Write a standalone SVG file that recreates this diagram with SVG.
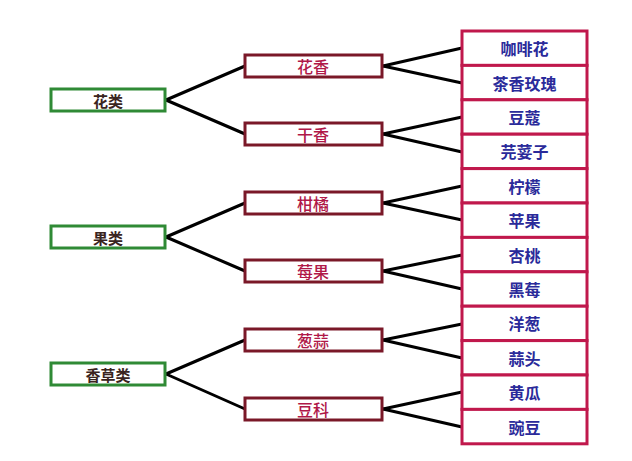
<svg xmlns="http://www.w3.org/2000/svg" width="632" height="461" viewBox="0 0 632 461">
<style>
text{font-family:"Noto Sans CJK SC","Noto Sans",sans-serif;font-size:15px;font-weight:bold;text-anchor:middle;dominant-baseline:central}
.l1 rect{fill:#fff;stroke:#2f8a35;stroke-width:3}
.l1 text{fill:#3a2420}
.l2 rect{fill:#fff;stroke:#7a1828;stroke-width:3}
.l2 text{fill:#b01848;font-weight:500;font-size:16px}
.l3 rect{fill:#fff;stroke:#c0184c;stroke-width:3}
.l3 text{fill:#2a2a9a;font-size:16px}
#connectors line{stroke:#000;stroke-width:3;stroke-linecap:round}
</style>
<rect width="632" height="461" fill="#fff"/>
<g id="connectors">
<line x1="166" y1="100" x2="245" y2="66"/><line x1="166" y1="100" x2="245" y2="134"/>
<line x1="166" y1="237" x2="245" y2="203"/><line x1="166" y1="237" x2="245" y2="271"/>
<line x1="166" y1="374" x2="245" y2="340"/><line x1="166" y1="374" x2="245" y2="409"/>
<line x1="383" y1="66" x2="462" y2="48"/><line x1="383" y1="66" x2="462" y2="83"/>
<line x1="383" y1="134" x2="462" y2="117"/><line x1="383" y1="134" x2="462" y2="152"/>
<line x1="383" y1="203" x2="462" y2="186"/><line x1="383" y1="203" x2="462" y2="220"/>
<line x1="383" y1="271" x2="462" y2="255"/><line x1="383" y1="271" x2="462" y2="289"/>
<line x1="383" y1="340" x2="462" y2="324"/><line x1="383" y1="340" x2="462" y2="358"/>
<line x1="383" y1="409" x2="462" y2="392"/><line x1="383" y1="409" x2="462" y2="427"/>
</g>
<g id="n-hualei" class="l1"><rect x="51" y="89" width="114" height="22"/><text x="108" y="100">花类</text></g>
<g id="n-guolei" class="l1"><rect x="51" y="226" width="114" height="22"/><text x="108" y="237">果类</text></g>
<g id="n-xiangcaolei" class="l1"><rect x="51" y="363" width="114" height="22"/><text x="108" y="374">香草类</text></g>
<g id="n-huaxiang" class="l2"><rect x="245" y="55" width="137" height="22"/><text x="313" y="66">花香</text></g>
<g id="n-ganxiang" class="l2"><rect x="245" y="123" width="137" height="22"/><text x="313" y="134">干香</text></g>
<g id="n-ganju" class="l2"><rect x="245" y="192" width="137" height="22"/><text x="313" y="203">柑橘</text></g>
<g id="n-meiguo" class="l2"><rect x="245" y="260" width="137" height="22"/><text x="313" y="271">莓果</text></g>
<g id="n-congsuan" class="l2"><rect x="245" y="329" width="137" height="22"/><text x="313" y="340">葱蒜</text></g>
<g id="n-douke" class="l2"><rect x="245" y="398" width="137" height="22"/><text x="313" y="409">豆科</text></g>
<g id="n-kafeihua" class="l3"><rect x="462" y="31" width="125" height="34.4"/><text x="524.5" y="48.2">咖啡花</text></g>
<g id="n-chaxiangmeigui" class="l3"><rect x="462" y="65.4" width="125" height="34.4"/><text x="524.5" y="82.6">茶香玫瑰</text></g>
<g id="n-doukou" class="l3"><rect x="462" y="99.8" width="125" height="34.4"/><text x="524.5" y="117">豆蔻</text></g>
<g id="n-yansui" class="l3"><rect x="462" y="134.2" width="125" height="34.4"/><text x="524.5" y="151.4">芫荽子</text></g>
<g id="n-ningmeng" class="l3"><rect x="462" y="168.6" width="125" height="34.4"/><text x="524.5" y="185.8">柠檬</text></g>
<g id="n-pingguo" class="l3"><rect x="462" y="203" width="125" height="34.4"/><text x="524.5" y="220.2">苹果</text></g>
<g id="n-xingtao" class="l3"><rect x="462" y="237.4" width="125" height="34.4"/><text x="524.5" y="254.6">杏桃</text></g>
<g id="n-heimei" class="l3"><rect x="462" y="271.8" width="125" height="34.4"/><text x="524.5" y="289">黑莓</text></g>
<g id="n-yangcong" class="l3"><rect x="462" y="306.2" width="125" height="34.4"/><text x="524.5" y="323.4">洋葱</text></g>
<g id="n-suantou" class="l3"><rect x="462" y="340.6" width="125" height="34.4"/><text x="524.5" y="357.8">蒜头</text></g>
<g id="n-huanggua" class="l3"><rect x="462" y="375" width="125" height="34.4"/><text x="524.5" y="392.2">黄瓜</text></g>
<g id="n-wandou" class="l3"><rect x="462" y="409.4" width="125" height="34.4"/><text x="524.5" y="426.6">豌豆</text></g>
</svg>
